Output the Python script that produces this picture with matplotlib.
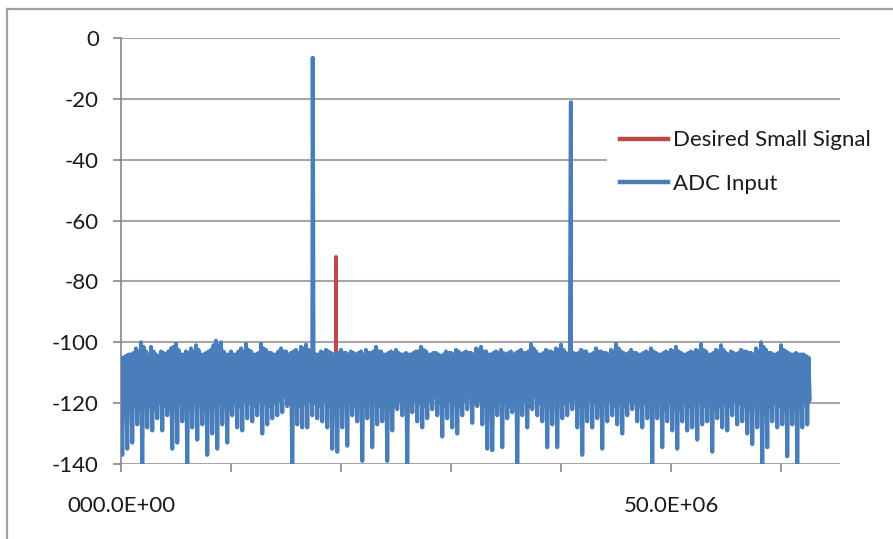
import numpy as np
import matplotlib
matplotlib.use("Agg")
import matplotlib.pyplot as plt
from matplotlib.lines import Line2D

# ---------------- data ----------------
bin_mhz = 62.5 / 137.5          # spacing of the read-off noise bins (MHz)

# top of the noise floor, first half of each bin
noise_high_db = [
    -105, -104.5, -104, -102, -100, -103, -101.5, -104, -103, -104,
    -102, -100.5, -104, -103, -102, -101, -104, -103.5, -102.5, -99.5,
    -100, -104, -103, -104, -102, -100.5, -103, -104, -100.5, -102.5,
    -103.5, -104, -102, -103, -103.5, -102.5, -101.5, -100.8, -103, -104,
    -103, -102.5, -103.5, -104, -102.5, -103.5, -103, -104, -103, -102.5,
    -103.5, -101.5, -103, -104, -103, -102.5, -104, -103.5, -104, -103,
    -101.5, -103, -104, -103.5, -104.5, -103, -103.5, -102.5, -104, -103,
    -103.5, -102, -101.5, -103, -104, -103, -102.5, -104, -103, -103.5,
    -102.5, -103.5, -100.6, -103, -104, -102.5, -103, -102, -100.8, -103.5,
    -103, -104, -102.5, -103, -104, -102, -103, -103.5, -102.5, -100.6,
    -103, -104, -102.5, -103.5, -104, -103, -102, -103.5, -104, -103,
    -102.5, -101.5, -103.5, -104, -103, -102.5, -100.6, -103, -104, -102.5,
    -101, -103.5, -103, -104, -102.5, -103, -103.5, -102, -100, -102.5,
    -103.5, -104, -101, -103, -104, -103.5, -104, -104.5,
]

# top of the noise floor, second half of each bin
noise_high_b_db = [
    -105, -104, -103.5, -103, -101.5, -104, -103, -104.5, -103.5, -103,
    -101.5, -102.5, -104, -103.5, -103, -102.5, -104, -103, -101, -101,
    -103, -104, -104, -103, -103, -102.5, -104, -103.5, -102, -103.5,
    -104, -103, -103, -104, -103, -103.5, -102, -102.5, -104, -104,
    -103.5, -103, -104, -103.5, -103.5, -104, -103.5, -103.5, -104, -103.5,
    -103, -103, -104, -103.5, -103.5, -103.5, -104, -104, -103.5, -103,
    -102.5, -104, -103.5, -104, -104, -103.5, -104, -103, -103.5, -103.5,
    -104, -102.5, -103, -104, -103.5, -103.5, -103.5, -103.5, -104, -103,
    -103.5, -103, -102, -104, -103.5, -103, -103.5, -102.5, -102.5, -104,
    -103.5, -103.5, -103, -104, -103.5, -103, -103.5, -104, -103, -102,
    -103.5, -103.5, -103.5, -104, -103.5, -103.5, -103, -104, -103.5, -103.5,
    -103, -103, -104, -103.5, -103.5, -103, -102.5, -104, -103.5, -103,
    -102.5, -104, -103.5, -103.5, -103, -103.5, -104, -103, -101.5, -103.5,
    -104, -103.5, -102.5, -103.5, -104, -104, -104, -105,
]

# deepest dip in each bin
noise_low_db = [
    -137, -135, -133, -127, -140, -128, -129, -125, -129, -124,
    -135, -133, -126, -140, -128, -132, -127, -137, -130, -135,
    -127, -133, -124, -128, -129, -125, -126, -124, -130, -127,
    -125, -124, -123, -121, -140, -127, -128, -128, -124, -125,
    -126, -128, -135, -136, -128, -134, -124, -126, -139, -125,
    -134.5, -127, -126, -139, -129, -122, -124, -140, -123, -126,
    -128, -125, -122, -124, -131, -125, -128, -130, -124, -122,
    -126.5, -121, -127, -135, -135.5, -124, -134.5, -125, -123, -140,
    -124, -128, -122, -124, -126, -134.5, -127, -134.5, -125, -124,
    -122, -128, -137, -126, -128, -125, -135, -126, -124, -127,
    -130, -124, -122, -126, -128, -125, -140, -125, -134.5, -126,
    -129, -135, -126, -129, -128, -132, -127, -126, -136, -125,
    -128, -129, -124, -127, -126, -130, -133.5, -128, -140, -134.5,
    -126, -128, -127, -137.5, -127, -140, -128, -127,
]

# lower edge of the dense part of the noise band in each bin
noise_mid_db = [
    -123, -122, -121, -122, -120, -121, -122, -120, -121, -122,
    -121, -120, -122, -121, -120, -121, -122, -120, -121, -120,
    -121, -122, -120, -121, -119, -120, -121, -119, -120, -121,
    -120, -119, -118, -119, -120, -121, -120, -119, -120, -121,
    -119, -120, -121, -120, -119, -120, -121, -119, -120, -118,
    -120, -121, -119, -120, -121, -119, -118, -120, -119, -120,
    -121, -119, -118, -120, -121, -119, -120, -121, -119, -118,
    -120, -119, -121, -120, -121, -119, -120, -121, -119, -120,
    -119, -121, -118, -120, -121, -120, -119, -121, -120, -119,
    -118, -120, -121, -119, -120, -121, -120, -119, -121, -120,
    -121, -119, -120, -121, -120, -119, -121, -120, -122, -120,
    -121, -122, -120, -121, -120, -119, -121, -120, -122, -121,
    -120, -121, -119, -120, -121, -122, -120, -121, -122, -121,
    -120, -121, -122, -121, -122, -121, -120, -119,
]

carrier_freq_mhz = [17.43, 40.9]
carrier_level_db = [-6.5, -21.1]

small_freq_mhz = [19.55]
small_level_db = [-72.0]
small_base_db = [-108.0]

series_names = ["Desired Small Signal", "ADC Input"]
x_tick_labels = ["000.0E+00", "", "", "", "", "50.0E+06", ""]
y_ticks = [0, -20, -40, -60, -80, -100, -120, -140]

# ---------------- build series ----------------
n = len(noise_high_db)
idx = np.arange(n)
freq = np.empty(4 * n)
lev = np.empty(4 * n)
for k, arr in enumerate([noise_high_db, noise_low_db, noise_high_b_db, noise_mid_db]):
    freq[k::4] = (idx + k / 4) * bin_mhz
    lev[k::4] = arr
freq = np.concatenate([freq, carrier_freq_mhz])
lev = np.concatenate([lev, carrier_level_db])
order = np.argsort(freq, kind="stable")
freq_hz = freq[order] * 1e6
lev = lev[order]

blue = "#4a7ebb"
red = "#be4b48"
grid_c = "#a6a6a6"
axis_c = "#868686"
font = ["Lato", "DejaVu Sans"]
fs = 16

W, H = 893, 539
fig = plt.figure(figsize=(W / 100, H / 100), dpi=100)
fig.patch.set_facecolor("white")

# outer chart border (top and left visible)
fig.add_artist(Line2D([7 / W, 7 / W], [0, 1 - 9 / H], transform=fig.transFigure,
                      color="#a0a0a0", lw=1.6))
fig.add_artist(Line2D([7 / W, 1], [1 - 9 / H, 1 - 9 / H], transform=fig.transFigure,
                      color="#a0a0a0", lw=1.6))

left, right, top, bottom = 121, 840, 38, 464
ax = fig.add_axes([left / W, 1 - bottom / H, (right - left) / W, (bottom - top) / H])

# small signal (red) drawn first, under the ADC input
for f0, lv, b in zip(small_freq_mhz, small_level_db, small_base_db):
    ax.plot([f0 * 1e6, f0 * 1e6], [b, lv], color=red, lw=2.9, solid_capstyle="round",
            zorder=3)
ax.plot(freq_hz, lev, color=blue, lw=2.9, solid_joinstyle="round",
        solid_capstyle="round", zorder=4)

ax.set_xlim(0, (right - left) / 11.0 * 1e6)
ax.set_ylim(-140, 0)
ax.set_yticks(y_ticks)
ax.set_yticklabels([str(v) for v in y_ticks], fontfamily=font, fontsize=fs)
ax.set_xticks(np.arange(0, 70e6, 10e6))
ax.set_xticklabels(x_tick_labels, fontfamily=font, fontsize=fs)

ax.grid(axis="y", color=grid_c, lw=1.5, zorder=0)
ax.set_axisbelow(True)
for s in ["top", "right", "bottom"]:
    ax.spines[s].set_visible(False)
ax.spines["left"].set_color(axis_c)
ax.spines["left"].set_linewidth(1.2)
ax.tick_params(axis="y", length=6, width=1.2, color=axis_c, pad=10, labelcolor="#1a1a1a")
ax.tick_params(axis="x", length=6, width=1.2, color=axis_c, pad=17, labelcolor="#1a1a1a")

handles = [Line2D([], [], color=red, lw=3.2), Line2D([], [], color=blue, lw=3.2)]
leg = fig.legend(handles, series_names, loc="upper left",
                 bbox_to_anchor=(607 / W, 1 - 117 / H), borderaxespad=0,
                 frameon=True, prop={"family": font, "size": fs}, handlelength=2.16,
                 handletextpad=0.23, labelspacing=1.05, borderpad=0.6)
leg.get_frame().set_facecolor("white")
leg.get_frame().set_edgecolor("none")
leg.get_frame().set_alpha(1)
for t in leg.get_texts():
    t.set_color("#1a1a1a")

fig.savefig("out.png", dpi=100)
